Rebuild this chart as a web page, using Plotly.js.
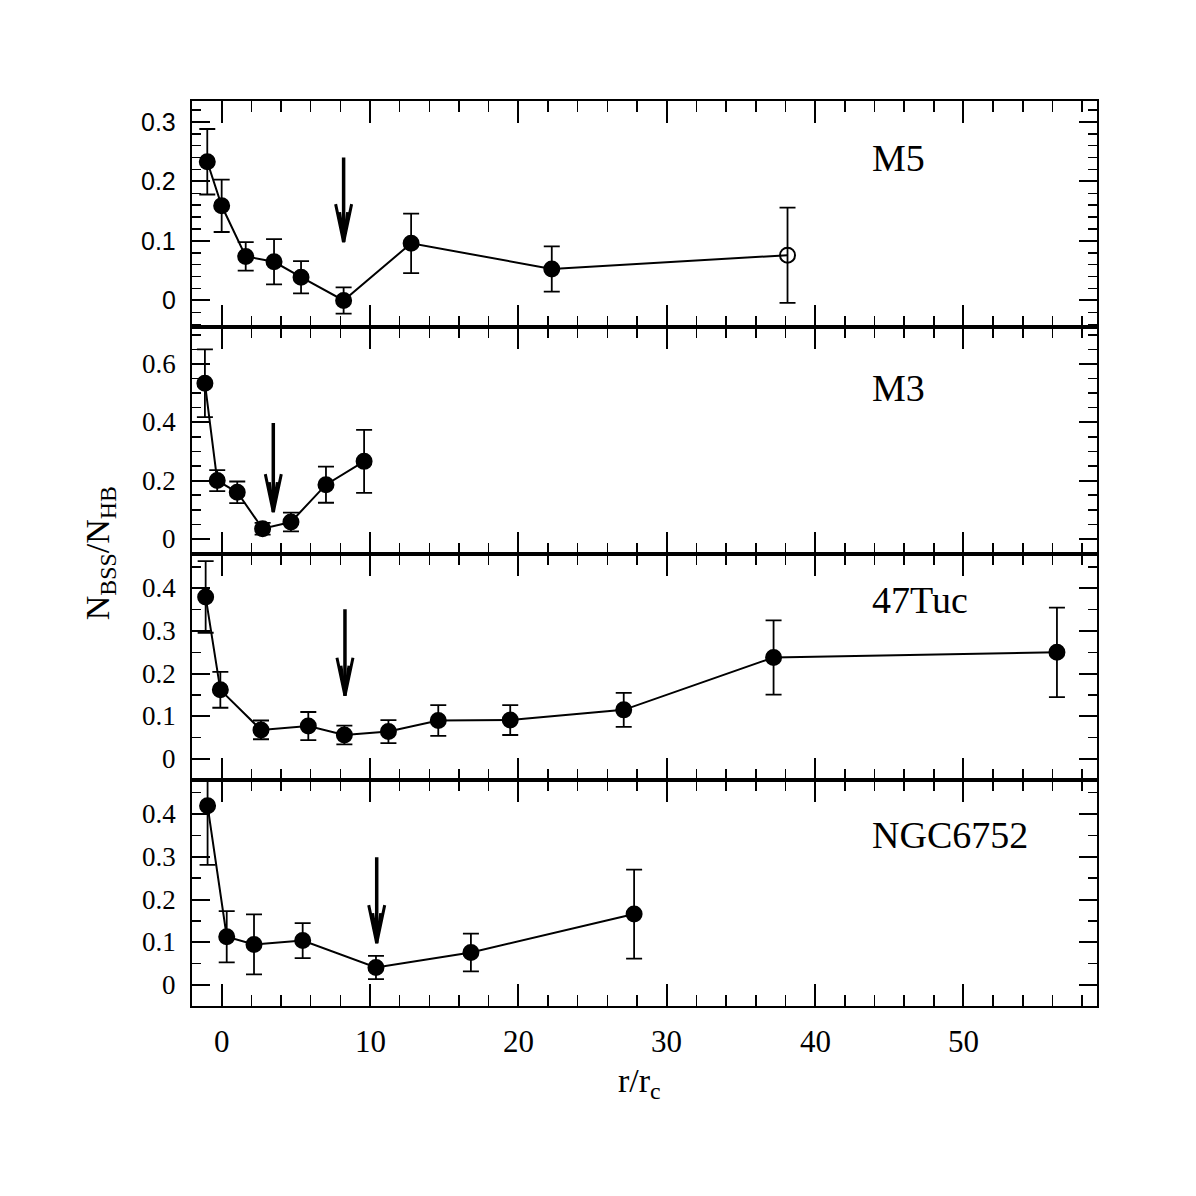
<!DOCTYPE html>
<html>
<head>
<meta charset="utf-8">
<script src="https://cdn.plot.ly/plotly-3.0.1.min.js"></script>
</head>
<body style="margin:0; background:#fff">
<div id="chart"></div>
<script>
// radial distance in units of core radius, BSS/HB ratio and its error
var m5X = [-0.97, 0.0, 1.62, 3.53, 5.35, 8.22, 12.77, 22.25, 38.14];
var m5Y = [0.233, 0.159, 0.074, 0.065, 0.039, 0.0, 0.096, 0.053, 0.076];
var m5Err = [0.055, 0.044, 0.024, 0.038, 0.027, 0.022, 0.050, 0.038, 0.080];

var m3X = [-1.13, -0.30, 1.05, 2.76, 4.67, 7.03, 9.60];
var m3Y = [0.534, 0.200, 0.160, 0.035, 0.058, 0.186, 0.266];
var m3Err = [0.116, 0.036, 0.037, 0.020, 0.032, 0.062, 0.108];

var tucX = [-1.08, -0.09, 2.65, 5.84, 8.27, 11.24, 14.6, 19.45, 27.1, 37.2, 56.3];
var tucY = [0.380, 0.162, 0.068, 0.077, 0.056, 0.064, 0.090, 0.091, 0.115, 0.238, 0.250];
var tucErr = [0.084, 0.042, 0.022, 0.033, 0.022, 0.027, 0.036, 0.035, 0.040, 0.087, 0.105];

var ngcX = [-0.95, 0.34, 2.18, 5.46, 10.4, 16.8, 27.8];
var ngcY = [0.419, 0.113, 0.095, 0.104, 0.041, 0.076, 0.166];
var ngcErr = [0.138, 0.060, 0.070, 0.041, 0.027, 0.044, 0.104];

var clusterNames = ["M5", "M3", "47Tuc", "NGC6752"];
var nameY = [0.240, 0.516, 0.372, 0.351];

// arrows marking the position of the minimum
var arrowX = [8.22, 3.48, 8.31, 10.45];
var arrowTop = [0.240, 0.398, 0.351, 0.299];
var arrowTip = [0.098, 0.092, 0.148, 0.098];

// tick labels
var xTickVals = [0, 10, 20, 30, 40, 50];
var yTickVals = [
    [0, 0.1, 0.2, 0.3],
    [0, 0.2, 0.4, 0.6],
    [0, 0.1, 0.2, 0.3, 0.4],
    [0, 0.1, 0.2, 0.3, 0.4]
];

var serif = "Liberation Serif";
var sans = "Liberation Sans";

function panelTrace(x, y, err, idx, symbols) {
    var suffix = idx === 1 ? "" : String(idx);
    return {
        x: x,
        y: y,
        xaxis: "x" + suffix,
        yaxis: "y" + suffix,
        type: "scatter",
        mode: "lines+markers",
        line: {color: "black", width: 2},
        marker: {color: "black", size: 15, symbol: symbols || "circle",
                 line: {color: "black", width: 2}},
        error_y: {type: "data", array: err, visible: true, color: "black",
                  thickness: 1.8, width: 8},
        showlegend: false,
        hoverinfo: "none"
    };
}

// the outermost M5 point is drawn as an open circle
var m5Symbols = m5X.map(function(v, i) {
    return i === m5X.length - 1 ? "circle-open" : "circle";
});

var data = [
    panelTrace(m5X, m5Y, m5Err, 1, m5Symbols),
    panelTrace(m3X, m3Y, m3Err, 2),
    panelTrace(tucX, tucY, tucErr, 3),
    panelTrace(ngcX, ngcY, ngcErr, 4)
];

function xAxis(anchor) {
    return {
        anchor: anchor,
        range: [-2, 59],
        dtick: 10,
        tick0: 0,
        ticks: "inside",
        ticklen: 22,
        tickwidth: 2,
        tickcolor: "black",
        minor: {dtick: 2, ticks: "inside", ticklen: 11, tickwidth: 1.5, tickcolor: "black"},
        showline: true,
        linewidth: 2,
        linecolor: "black",
        mirror: "allticks",
        showgrid: false,
        zeroline: false,
        showticklabels: false
    };
}

function yAxis(anchor, domain, range, dtick, minorStep) {
    return {
        anchor: anchor,
        domain: domain,
        range: range,
        dtick: dtick,
        tick0: 0,
        ticks: "inside",
        ticklen: 18,
        tickwidth: 2,
        tickcolor: "black",
        minor: {dtick: minorStep, ticks: "inside", ticklen: 9, tickwidth: 1.5, tickcolor: "black"},
        showline: true,
        linewidth: 2,
        linecolor: "black",
        mirror: "allticks",
        showgrid: false,
        zeroline: false,
        showticklabels: false
    };
}

var annotations = [];
var shapes = [];
var yRefs = ["y", "y2", "y3", "y4"];
var xRefs = ["x", "x2", "x3", "x4"];

// tick labels placed through each axis' scale (top panel uses a sans face)
yTickVals.forEach(function(vals, i) {
    vals.forEach(function(v) {
        annotations.push({
            xref: "paper", yref: yRefs[i],
            x: 0, y: v, xshift: -14,
            xanchor: "right", yanchor: "middle",
            text: String(v), showarrow: false,
            font: {family: i === 0 ? sans : serif, size: i === 0 ? 25 : 27, color: "black"}
        });
    });
});
xTickVals.forEach(function(v) {
    annotations.push({
        xref: "x4", yref: "paper",
        x: v, y: 0, yshift: -16,
        xanchor: "center", yanchor: "top",
        text: String(v), showarrow: false,
        font: {family: serif, size: 31, color: "black"}
    });
});

clusterNames.forEach(function(name, i) {
    annotations.push({
        xref: xRefs[i], yref: yRefs[i],
        x: 43.7, y: nameY[i],
        xanchor: "left", yanchor: "middle",
        text: name, showarrow: false,
        font: {family: serif, size: 38, color: "black"}
    });
    // shaft
    shapes.push({
        type: "line", xref: xRefs[i], yref: yRefs[i],
        x0: arrowX[i], x1: arrowX[i], y0: arrowTop[i], y1: arrowTip[i],
        line: {color: "black", width: 3.5}
    });
    // narrow V head, sized in pixels around the tip
    shapes.push({
        type: "path", xref: xRefs[i], yref: yRefs[i],
        xsizemode: "pixel", ysizemode: "pixel",
        xanchor: arrowX[i], yanchor: arrowTip[i],
        path: "M-8,38 L0,0 L8,38 M-4,30 L0,2 L4,30",
        line: {color: "black", width: 3}
    });
});

// axis titles
annotations.push({
    xref: "paper", yref: "paper", x: -0.102, y: 0.5,
    xanchor: "center", yanchor: "middle", textangle: -90,
    text: "N<sub>BSS</sub>/N<sub>HB</sub>", showarrow: false,
    font: {family: serif, size: 34, color: "black"}
});
annotations.push({
    xref: "paper", yref: "paper", x: 0.495, y: -0.085,
    xanchor: "center", yanchor: "middle",
    text: "r/r<sub>c</sub>", showarrow: false,
    font: {family: serif, size: 34, color: "black"}
});

var layout = {
    width: 1196,
    height: 1196,
    margin: {l: 192, r: 99, t: 101, b: 190},
    paper_bgcolor: "white",
    plot_bgcolor: "white",
    showlegend: false,
    xaxis: xAxis("y"),
    xaxis2: xAxis("y2"),
    xaxis3: xAxis("y3"),
    xaxis4: xAxis("y4"),
    yaxis: yAxis("x", [0.75, 1], [-0.045, 0.335], 0.1, 0.02),
    yaxis2: yAxis("x2", [0.5, 0.75], [-0.05, 0.726], 0.2, 0.05),
    yaxis3: yAxis("x3", [0.25, 0.5], [-0.049, 0.482], 0.1, 0.05),
    yaxis4: yAxis("x4", [0, 0.25], [-0.049, 0.48], 0.1, 0.05),
    annotations: annotations,
    shapes: shapes
};

Plotly.newPlot("chart", data, layout, {staticPlot: true});
</script>
</body>
</html>
